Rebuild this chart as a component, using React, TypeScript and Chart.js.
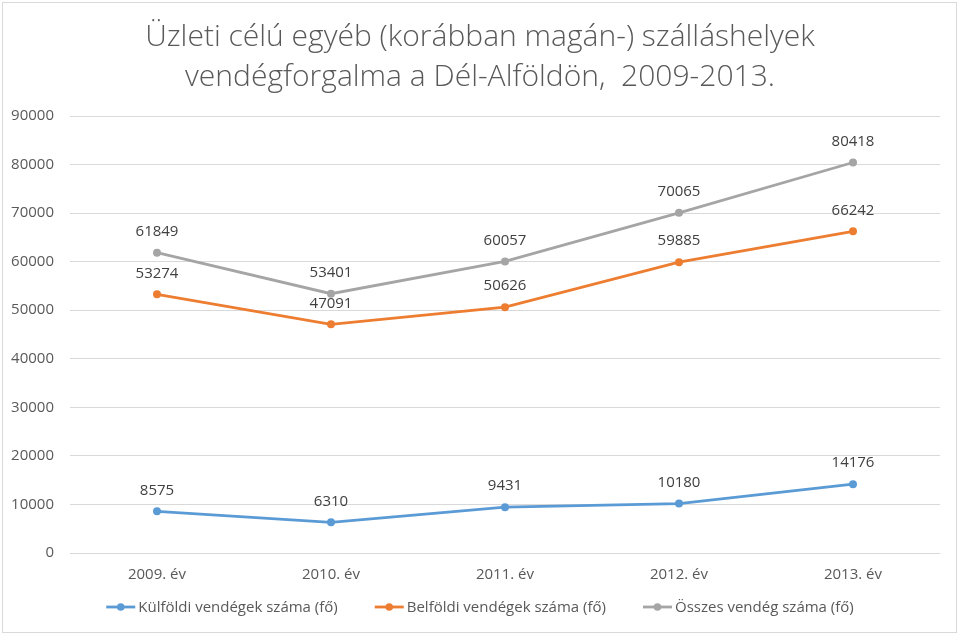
import React, { useEffect, useRef } from "react";
import { Chart, registerables } from "chart.js";
Chart.register(...registerables);

const categories = ["2009. év", "2010. év", "2011. év", "2012. év", "2013. év"];
const kulfoldi = [8575, 6310, 9431, 10180, 14176];
const belfoldi = [53274, 47091, 50626, 59885, 66242];
const osszes = [61849, 53401, 60057, 70065, 80418];
const seriesNames = [
  "Külföldi vendégek száma (fő)",
  "Belföldi vendégek száma (fő)",
  "Összes vendég száma (fő)",
];
const seriesColors = ["#5B9BD5", "#ED7D31", "#A5A5A5"];
const titleLines = [
  "Üzleti célú egyéb (korábban magán-) szálláshelyek",
  "vendégforgalma a Dél-Alföldön,  2009-2013.",
];
const yMin = 0;
const yMax = 90000;
const yStep = 10000;

const FONT = '"Open Sans", "DejaVu Sans", sans-serif';

const decorPlugin = {
  id: "decor",
  beforeDraw(chart: any) {
    const { ctx, width, height } = chart;
    ctx.save();
    ctx.fillStyle = "#ffffff";
    ctx.fillRect(0, 0, width, height);
    ctx.strokeStyle = "#d9d9d9";
    ctx.lineWidth = 1;
    ctx.strokeRect(2.5, 2.5, width - 5, height - 5);
    ctx.restore();
  },
  afterDraw(chart: any) {
    const { ctx } = chart;
    ctx.save();
    // Title
    ctx.fillStyle = "#595959";
    ctx.textAlign = "center";
    ctx.textBaseline = "middle";
    ctx.font = `300 30px ${FONT}`;
    const w0 = ctx.measureText(titleLines[0]).width;
    const size = Math.min(32, (30 * 670) / w0);
    ctx.font = `300 ${size}px ${FONT}`;
    ctx.fillText(titleLines[0], 480, 37);
    ctx.fillText(titleLines[1], 480, 77);

    // Data labels
    ctx.font = `15px ${FONT}`;
    ctx.fillStyle = "#404040";
    chart.data.datasets.forEach((ds: any, i: number) => {
      const meta = chart.getDatasetMeta(i);
      meta.data.forEach((pt: any, j: number) => {
        ctx.fillText(String(ds.data[j]), pt.x, pt.y - 21);
      });
    });

    // Legend
    ctx.font = `15px ${FONT}`;
    ctx.textAlign = "left";
    const lineLen = 29;
    const gapText = 3;
    const gapItems = 37;
    const widths = seriesNames.map((n) => ctx.measureText(n).width);
    const total =
      widths.reduce((a, b) => a + b, 0) +
      seriesNames.length * (lineLen + gapText) +
      (seriesNames.length - 1) * gapItems;
    let x = 480 - total / 2;
    const y = 607;
    seriesNames.forEach((n, i) => {
      ctx.strokeStyle = seriesColors[i];
      ctx.lineWidth = 2.8;
      ctx.beginPath();
      ctx.moveTo(x, y);
      ctx.lineTo(x + lineLen, y);
      ctx.stroke();
      ctx.fillStyle = seriesColors[i];
      ctx.beginPath();
      ctx.arc(x + lineLen / 2, y, 3.8, 0, Math.PI * 2);
      ctx.fill();
      ctx.fillStyle = "#595959";
      ctx.fillText(n, x + lineLen + gapText, y + 1);
      x += lineLen + gapText + widths[i] + gapItems;
    });
    ctx.restore();
  },
};

export default function App() {
  const ref = useRef<HTMLCanvasElement | null>(null);
  useEffect(() => {
    if (!ref.current) return;
    const mk = (label: string, data: number[], color: string) => ({
      label,
      data,
      borderColor: color,
      backgroundColor: color,
      borderWidth: 2.8,
      pointRadius: 4,
      pointBorderWidth: 0,
      pointBackgroundColor: color,
      tension: 0,
    });
    const chart = new Chart(ref.current, {
      type: "line",
      data: {
        labels: categories,
        datasets: [
          mk(seriesNames[0], kulfoldi, seriesColors[0]),
          mk(seriesNames[1], belfoldi, seriesColors[1]),
          mk(seriesNames[2], osszes, seriesColors[2]),
        ],
      },
      options: {
        animation: false,
        responsive: false,
        events: [],
        layout: { padding: { top: 116, left: 0, right: 19, bottom: 42 } },
        plugins: {
          legend: { display: false },
          title: { display: false },
          tooltip: { enabled: false },
        },
        scales: {
          x: {
            offset: true,
            grid: { display: false, drawTicks: false },
            border: { display: false },
            ticks: {
              color: "#595959",
              font: { family: FONT, size: 15 },
              padding: 13,
              maxRotation: 0,
            },
            afterFit(scale: any) {
              scale.height = 40;
            },
          },
          y: {
            min: yMin,
            max: yMax,
            grid: { color: "#d9d9d9", lineWidth: 1, drawTicks: false },
            border: { display: false },
            ticks: {
              stepSize: yStep,
              color: "#595959",
              font: { family: FONT, size: 15 },
              padding: 16,
              callback: (v: any) => String(v),
            },
            afterFit(scale: any) {
              scale.width = 70;
            },
          },
        },
      },
      plugins: [decorPlugin],
    });
    return () => chart.destroy();
  }, []);
  return (
    <div style={{ position: "absolute", left: 0, top: 0, width: 959, height: 635 }}>
      <canvas ref={ref} width={959} height={635} style={{ display: "block" }} />
    </div>
  );
}
